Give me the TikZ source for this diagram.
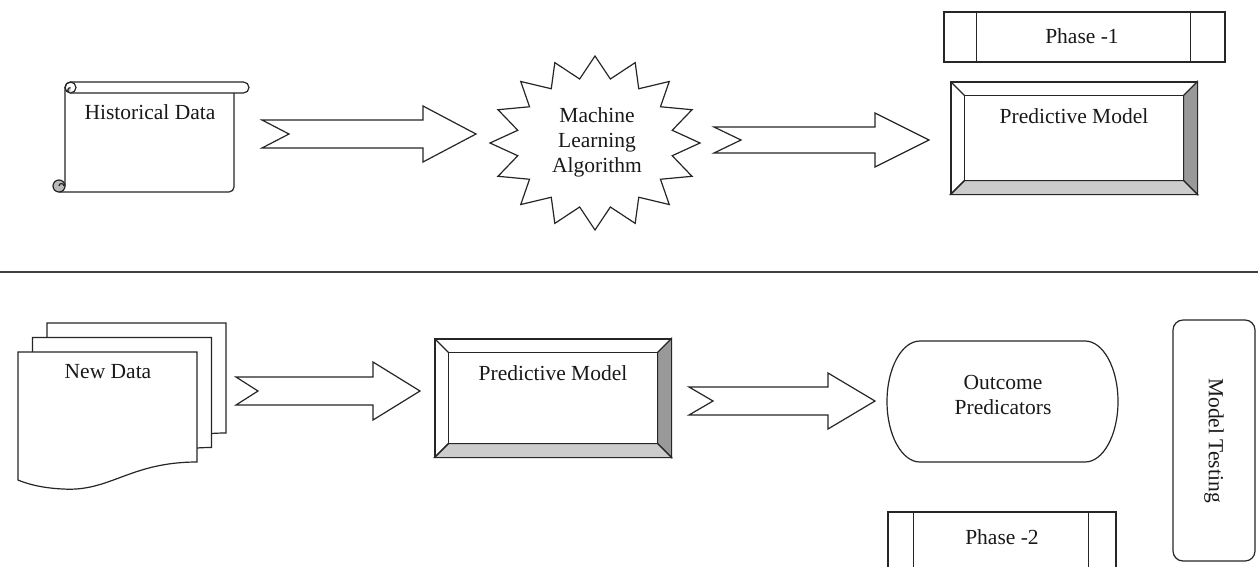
\documentclass[tikz,border=0pt]{standalone}
\usepackage{fontspec}
\setmainfont{Liberation Serif}
\usetikzlibrary{calc}

\tikzset{
  ln/.style={draw=black!85, line width=1.2pt, line join=miter},
  lbl/.style={font=\fontsize{21.5}{25}\selectfont, text=black!90, inner sep=0pt, align=center},
  blockarrow/.style={ln, fill=white},
  phasebox/.style={ln, fill=white, inner sep=0pt},
  bevel/.style={ln, fill=white, inner sep=0pt},
}

% notched block arrow: tail coord, tip coord, half shaft, half head, head length, notch depth
\newcommand\notcharrow[6]{%
  \draw[blockarrow] let \p1=(#1), \p2=(#2) in
    (\x1,\y1+#3) -- (\x2-#5,\y1+#3) -- (\x2-#5,\y1+#4) -- (\x2,\y1)
    -- (\x2-#5,\y1-#4) -- (\x2-#5,\y1-#3) -- (\x1,\y1-#3) -- (\x1+#6,\y1) -- cycle;}

% bevelled frame around a named rectangle node
\newcommand\bevelframe[1]{%
  \filldraw[ln, fill=gray!80] (#1.north east) -- (#1.south east)
    -- ($(#1.south east)+(-14,-14)$) -- ($(#1.north east)+(-14,14)$) -- cycle;
  \filldraw[ln, fill=gray!40] (#1.south west) -- (#1.south east)
    -- ($(#1.south east)+(-14,-14)$) -- ($(#1.south west)+(14,-14)$) -- cycle;
  \draw[ln] ($(#1.north west)+(14,14)$) rectangle ($(#1.south east)+(-14,-14)$);
  \draw[ln] (#1.north west) -- ($(#1.north west)+(14,14)$);
  \draw[ln] (#1.south west) -- ($(#1.south west)+(14,-14)$);
  \draw[ln] (#1.north west) rectangle (#1.south east);}

% one sheet of the stacked document symbol
\newcommand\docsheet{%
  \filldraw[ln, fill=white] (18,352) -- (197,352) -- (197,462)
    .. controls (130,462) and (110,492) .. (63,489)
    .. controls (40,488) and (25,483) .. (18,480) -- cycle;}

\begin{document}
\begin{tikzpicture}[x=1pt, y=-1pt]
\useasboundingbox (0,0) rectangle (1258,566);
\fill[white] (0,0) rectangle (1258,566);
\clip (0,0) rectangle (1258,566);

% ---------------- Phase 1 ----------------
% scroll
\draw[ln] (65,186) -- (65,87.5) arc[start angle=180, end angle=270, radius=5.5]
  -- (243.5,82) arc[start angle=-90, end angle=90, radius=5.5] -- (70.5,93);
\draw[ln] (70.5,87.5) circle[radius=5.5];
\filldraw[ln, fill=gray!45] (70.5,87.5) arc[start angle=-90, end angle=-270, radius=2.75];
\draw[ln] (234,93) -- (234,187) arc[start angle=0, end angle=90, radius=5] -- (59,192);
\filldraw[ln, fill=gray!55] (59,186) circle[radius=6];
\draw[ln] (59,186) arc[start angle=180, end angle=360, radius=2.5];
\node[lbl] (hist) at (150,112) {Historical Data};

% star
\node[lbl] (mla) at (595,143) {};
\begin{scope}[shift={(mla)}]
  \filldraw[ln, fill=white] (105,0)
    \foreach \k in {0,...,15} {
      -- ({0.75*105*cos(\k*22.5+11.25)},{0.75*87*sin(\k*22.5+11.25)})
      -- ({105*cos((\k+1)*22.5)},{87*sin((\k+1)*22.5)})
    } -- cycle;
\end{scope}
\node[lbl] (mlat) at (597,142) {Machine\\Learning\\Algorithm};

% predictive model (phase 1)
\node[bevel, minimum width=246, minimum height=112] (pm1) at (1074,138) {};
\bevelframe{pm1}
\node[lbl] (pm1t) at ($(pm1.north)+(0,35)$) {Predictive Model};

% phase label 1
\node[phasebox, minimum width=281, minimum height=50] (ph1) at (1084.5,37) {};
\draw[ln] ($(ph1.north west)+(33,0)$) -- ($(ph1.south west)+(33,0)$);
\draw[ln] ($(ph1.north east)+(-35,0)$) -- ($(ph1.south east)+(-35,0)$);
\node[lbl] (ph1t) at (1082,36) {Phase -1};

% arrows
\coordinate (a1s) at (262,134);
\coordinate (a1e) at (476,134);
\notcharrow{a1s}{a1e}{14pt}{28pt}{53pt}{27pt}
\coordinate (a2s) at (714,140);
\coordinate (a2e) at (929,140);
\notcharrow{a2s}{a2e}{13pt}{27pt}{54pt}{27pt}

% separator
\coordinate (sepl) at (0,272);
\coordinate (sepr) at (1258,272);
\draw[draw=black!75, line width=1.2pt] (sepl) -- (sepr);

% ---------------- Phase 2 ----------------
% stacked documents
\begin{scope}[shift={(29,-29)}]\docsheet\end{scope}
\begin{scope}[shift={(14.5,-14.5)}]\docsheet\end{scope}
\docsheet
\node[lbl] (newd) at (108,372) {New Data};

% predictive model (phase 2)
\node[bevel, minimum width=236, minimum height=118] (pm2) at (553,398) {};
\bevelframe{pm2}
\node[lbl] (pm2t) at ($(pm2.north)+(0,35)$) {Predictive Model};

% terminator
\node[lbl] (outc) at (1003,395) {Outcome\\Predicators};
\coordinate (oc) at (1002.5,401.5);
\draw[ln] ($(oc)+(-82.5,-60.5)$) -- ($(oc)+(82.5,-60.5)$)
  arc[start angle=-90, end angle=90, x radius=33, y radius=60.5]
  -- ($(oc)+(-82.5,60.5)$)
  arc[start angle=90, end angle=270, x radius=33, y radius=60.5] -- cycle;

% model testing
\node[ln, rounded corners=10pt, rotate=-90, minimum width=241, minimum height=82, inner sep=0pt,
      font=\fontsize{21.5}{25}\selectfont, text=black!90] (mt) at (1214,440.5) {Model Testing};

% phase label 2
\node[phasebox, minimum width=228, minimum height=68] (ph2) at (1002,546) {};
\draw[ln] ($(ph2.north west)+(26,0)$) -- ($(ph2.south west)+(26,0)$);
\draw[ln] ($(ph2.north east)+(-28,0)$) -- ($(ph2.south east)+(-28,0)$);
\node[lbl] (ph2t) at (1002,537) {Phase -2};

% arrows
\coordinate (a3s) at (236,391);
\coordinate (a3e) at (420,391);
\notcharrow{a3s}{a3e}{14pt}{29pt}{47pt}{22pt}
\coordinate (a4s) at (689,401);
\coordinate (a4e) at (875,401);
\notcharrow{a4s}{a4e}{14pt}{28pt}{47pt}{24pt}
\end{tikzpicture}
\end{document}
